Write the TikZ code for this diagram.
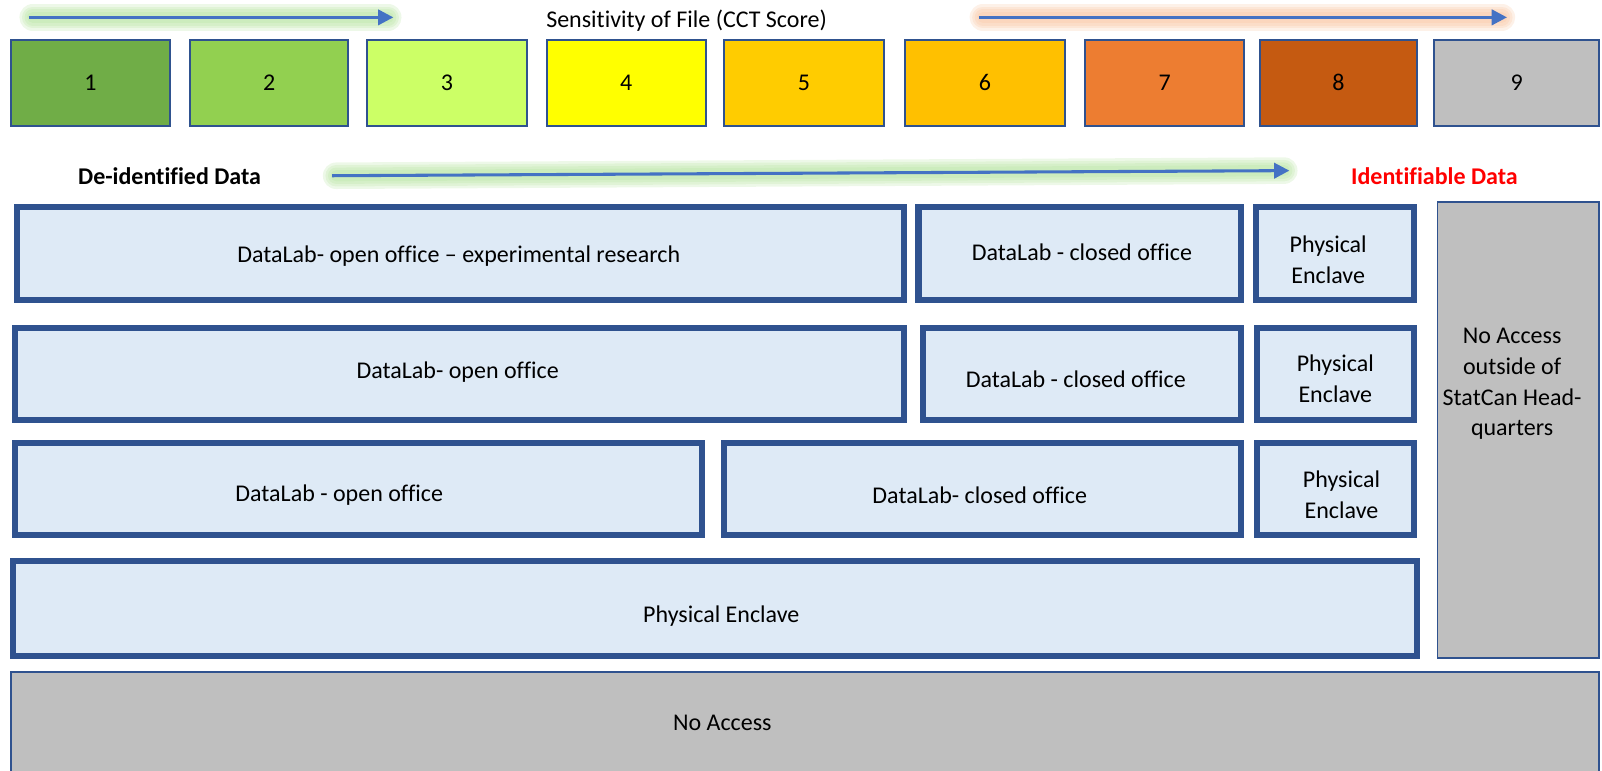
\documentclass[tikz,border=0pt]{standalone}
\usepackage{fontspec}
\setmainfont{Carlito}[Ligatures=NoCommon]
\usetikzlibrary{arrows.meta}
\definecolor{edgeblue}{HTML}{2F528F}
\definecolor{arrowblue}{HTML}{4472C4}
\definecolor{paleblue}{HTML}{DEEAF6}
\definecolor{greyfill}{HTML}{BFBFBF}
\definecolor{glowgreen}{RGB}{175,225,150}
\definecolor{gloworange}{RGB}{248,190,150}
\definecolor{sc1}{HTML}{70AD47}
\definecolor{sc2}{HTML}{92D050}
\definecolor{sc3}{HTML}{CCFF66}
\definecolor{sc4}{HTML}{FFFF00}
\definecolor{sc5}{HTML}{FFCC00}
\definecolor{sc6}{HTML}{FFC000}
\definecolor{sc7}{HTML}{ED7D31}
\definecolor{sc8}{HTML}{C55A11}
\definecolor{sc9}{HTML}{BFBFBF}
\tikzset{
  txt/.style={font=\fontsize{23.5}{30}\selectfont, align=center, inner sep=0pt},
  boldtxt/.style={txt, font=\fontsize{23.5}{28}\selectfont\bfseries},
  scorebox/.style={draw=edgeblue, line width=2, minimum height=84, inner sep=0pt,
    font=\fontsize{23.5}{28}\selectfont},
  zonebox/.style={draw=edgeblue, line width=6, fill=paleblue, inner sep=0pt},
  greybox/.style={draw=edgeblue, line width=1.6, fill=greyfill, inner sep=0pt},
  flow/.style={draw=arrowblue, line width=3, -{Triangle[length=15,width=15]}},
  glow/.style={line cap=round, draw=#1, draw opacity=0.22},
}
% soft halo behind an arrow
\newcommand{\glowline}[3]{%
  \draw[glow=#1, line width=26] (#2) -- (#3);
  \draw[glow=#1, line width=21] (#2) -- (#3);
  \draw[glow=#1, line width=16] (#2) -- (#3);
  \draw[glow=#1, line width=11] (#2) -- (#3);
}
\begin{document}
\begin{tikzpicture}[x=1pt, y=-1pt]
\useasboundingbox (0,0) rectangle (1568,754);
\clip (0,0) rectangle (1568,754);

% sensitivity scale arrows
\coordinate (ga1) at (28,17);
\coordinate (ga2) at (385,17);
\coordinate (gg1) at (32,17);
\coordinate (gg2) at (380,17);
\glowline{glowgreen}{gg1}{gg2}
\draw[flow] (ga1) -- (ga2);

\coordinate (oa1) at (958,17);
\coordinate (oa2) at (1475,17);
\coordinate (og1) at (962,17);
\coordinate (og2) at (1470,17);
\glowline{gloworange}{og1}{og2}
\draw[flow] (oa1) -- (oa2);

\node[txt] (title) at (672,20) {Sensitivity of File (CCT Score)};

% CCT score boxes
\node[scorebox, fill=sc1, minimum width=155] (s1) at (88.5,81) {1};
\node[scorebox, fill=sc2, minimum width=155] (s2) at (263.5,81) {2};
\node[scorebox, fill=sc3, minimum width=157] (s3) at (437.5,81) {3};
\node[scorebox, fill=sc4, minimum width=156] (s4) at (613,81) {4};
\node[scorebox, fill=sc5, minimum width=156] (s5) at (787,81) {5};
\node[scorebox, fill=sc6, minimum width=156] (s6) at (964,81) {6};
\node[scorebox, fill=sc7, minimum width=156] (s7) at (1140,81) {7};
\node[scorebox, fill=sc8, minimum width=154] (s8) at (1310,81) {8};
\node[scorebox, fill=sc9, minimum width=161] (s9) at (1484.5,81) {9};

% data identifiability arrow
\node[boldtxt] (deid) at (166,172) {De-identified Data};
\node[boldtxt, text=red] (ident) at (1404,172) {Identifiable Data};
\coordinate (ma1) at (325,172);
\coordinate (ma2) at (1262,167);
\coordinate (mg1) at (329,172);
\coordinate (mg2) at (1257,167);
\glowline{glowgreen}{mg1}{mg2}
\draw[flow] (ma1) -- (ma2);

% row 1
\node[zonebox, minimum width=868, minimum height=91] (r1a) at (451,248.5) {};
\node[zonebox, minimum width=316, minimum height=91] (r1b) at (1057,248.5) {};
\node[zonebox, minimum width=155, minimum height=91] (r1c) at (1306.5,248.5) {};
\node[txt] (t1a) at (449,251) {DataLab- open office -- experimental research};
\node[txt] (t1b) at (1059,247) {DataLab - closed office};
\node[txt] (t1c) at (1300,254) {Physical\\Enclave};

% row 2
\node[zonebox, minimum width=870, minimum height=90] (r2a) at (450,366) {};
\node[zonebox, minimum width=312, minimum height=90] (r2b) at (1059,366) {};
\node[zonebox, minimum width=154, minimum height=90] (r2c) at (1307,366) {};
\node[txt] (t2a) at (448,364) {DataLab- open office};
\node[txt] (t2b) at (1053,371) {DataLab - closed office};
\node[txt] (t2c) at (1307,371) {Physical\\Enclave};

% row 3
\node[zonebox, minimum width=672, minimum height=90] (r3a) at (351,479) {};
\node[zonebox, minimum width=506, minimum height=90] (r3b) at (962,479) {};
\node[zonebox, minimum width=154, minimum height=90] (r3c) at (1307,479) {};
\node[txt] (t3a) at (332,485) {DataLab - open office};
\node[txt] (t3b) at (959,485) {DataLab- closed office};
\node[txt] (t3c) at (1313,484) {Physical\\Enclave};

% row 4
\node[zonebox, minimum width=1374, minimum height=93] (r4) at (700,595.5) {};
\node[txt] (t4) at (706,603) {Physical Enclave};

% no-access zones
\node[greybox, minimum width=158, minimum height=446] (hq) at (1486,421) {};
\node[txt] (thq) at (1480,376) {No Access\\outside of\\StatCan Head-\\quarters};
\node[greybox, minimum width=1554, minimum height=112] (none) at (788,714) {};
\node[txt] (tnone) at (707,708) {No Access};
\end{tikzpicture}
\end{document}
